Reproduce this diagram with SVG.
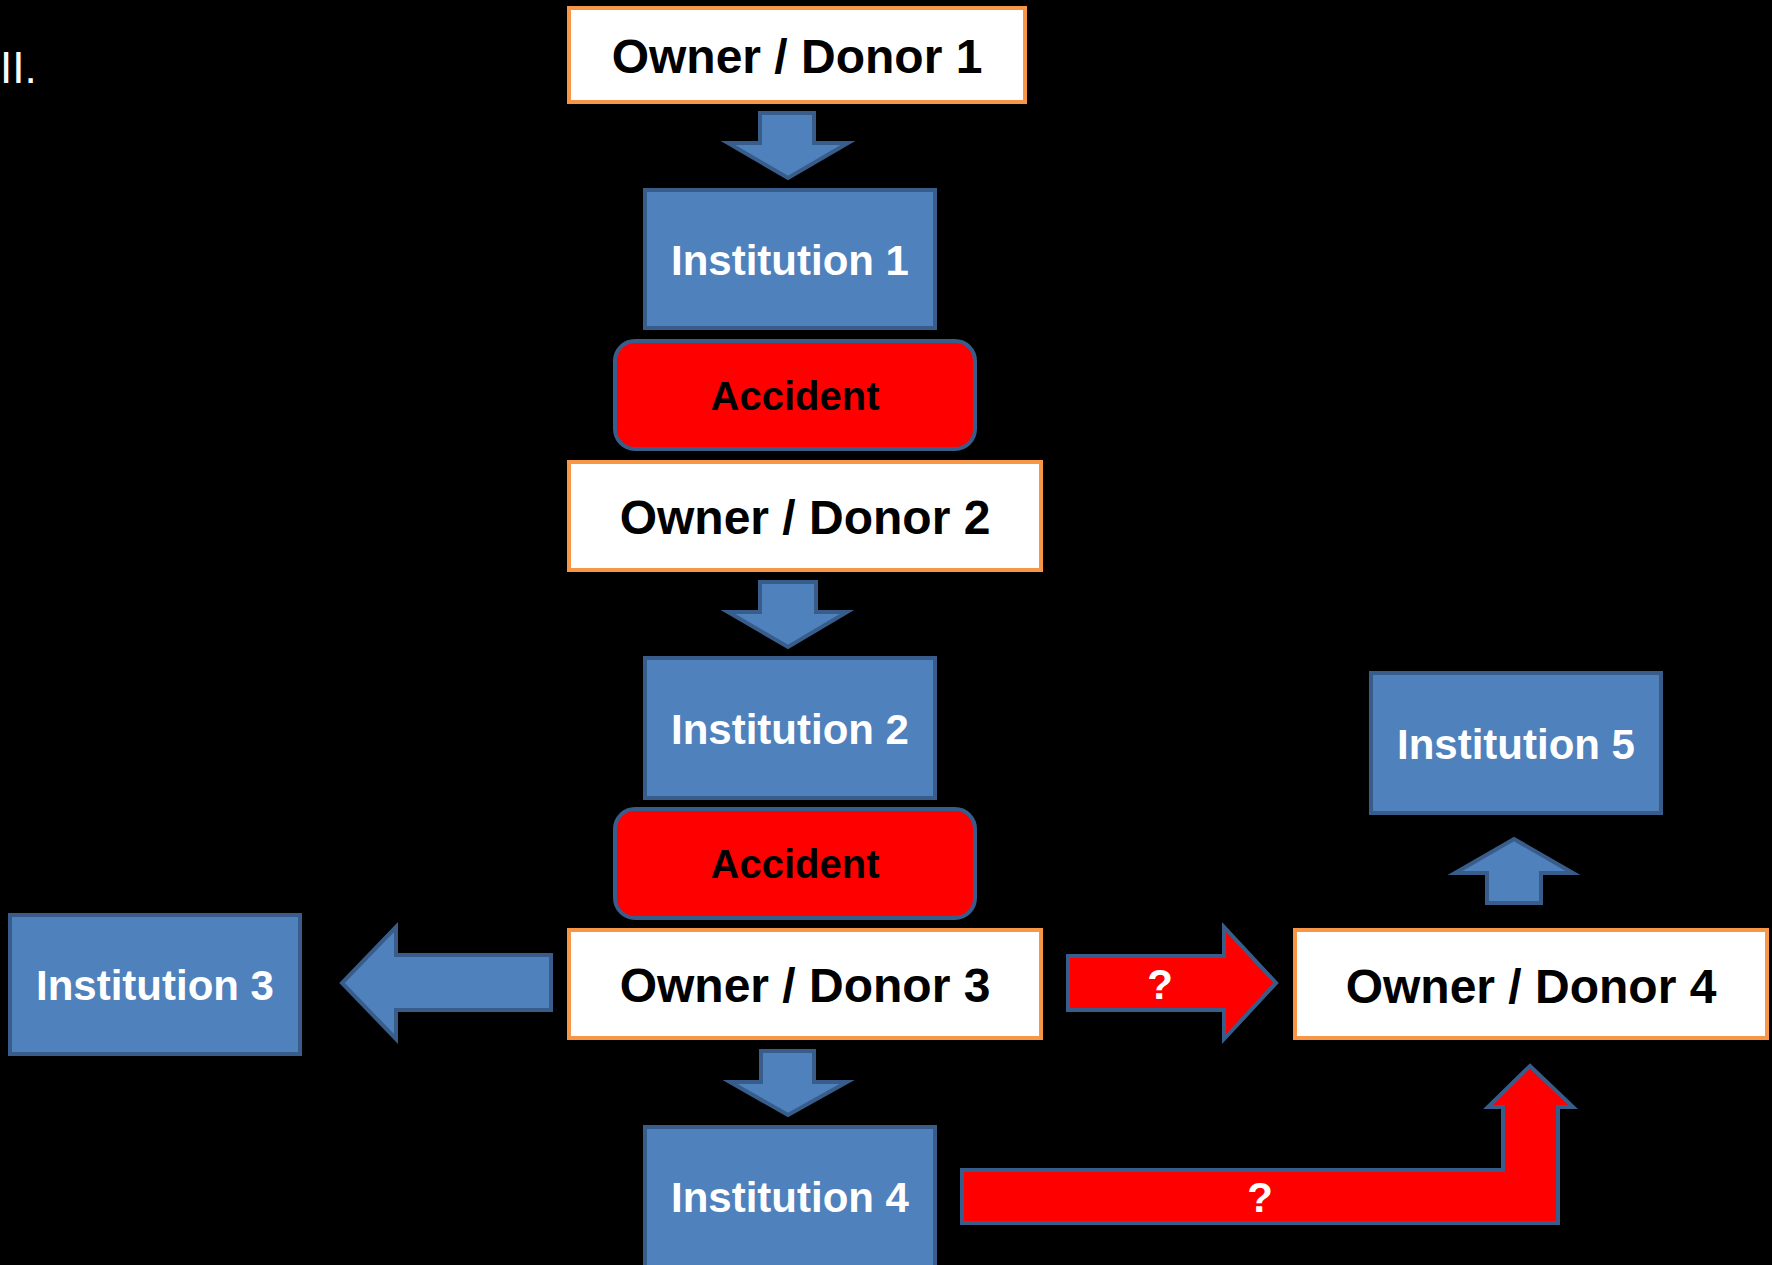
<svg xmlns="http://www.w3.org/2000/svg" width="1772" height="1265" viewBox="0 0 1772 1265">
<style>
.bg{fill:#000000}
.od{fill:#FFFFFF;stroke:#F79646;stroke-width:4}
.inst{fill:#4F81BD;stroke:#385D8A;stroke-width:4}
.acc{fill:#FF0000;stroke:#385D8A;stroke-width:4}
.barrow{fill:#4F81BD;stroke:#385D8A;stroke-width:4;stroke-linejoin:miter}
.rarrow{fill:#FF0000;stroke:#385D8A;stroke-width:4;stroke-linejoin:miter}
text{font-family:"Liberation Sans",Arial,sans-serif;font-weight:bold;text-anchor:middle}
.tod{font-size:48px;fill:#000000}
.tin{font-size:42px;fill:#FFFFFF}
.tac{font-size:40px;fill:#000000}
.tq{font-size:42px;fill:#FFFFFF}
.tlabel{font-size:44px;font-weight:normal;fill:#FFFFFF;text-anchor:start}
</style>
<rect class="bg" x="0" y="0" width="1772" height="1265"/>
<text class="tlabel" x="0" y="83">II.</text>

<g id="connectors">
  <polygon class="barrow" points="760,113 814,113 814,143 848,143 788,178 728,143 760,143"/>
  <polygon class="barrow" points="760,582 816,582 816,612 847,612 788,647 728,612 760,612"/>
  <polygon class="barrow" points="761,1051 814,1051 814,1082 847,1082 788,1115 730,1082 761,1082"/>
  <polygon class="barrow" points="551,955 396,955 396,927 342,983 396,1039 396,1010 551,1010"/>
  <polygon class="barrow" points="1514,839 1573,873 1541,873 1541,903 1487,903 1487,873 1455,873"/>
  <g id="arrow-q1">
    <polygon class="rarrow" points="1068,956 1224,956 1224,927 1276,983 1224,1039 1224,1010 1068,1010"/>
    <text class="tq" x="1160" y="999">?</text>
  </g>
  <g id="arrow-q2">
    <polygon class="rarrow" points="962,1170 1503,1170 1503,1107 1488,1107 1530,1066 1573,1107 1558,1107 1558,1223 962,1223"/>
    <text class="tq" x="1260" y="1212">?</text>
  </g>
</g>

<g id="owner1">
  <rect class="od" x="569" y="8" width="456" height="94"/>
  <text class="tod" x="797" y="73">Owner / Donor 1</text>
</g>
<g id="inst1">
  <rect class="inst" x="645" y="190" width="290" height="138"/>
  <text class="tin" x="790" y="275">Institution 1</text>
</g>
<g id="accident1">
  <rect class="acc" x="615" y="341" width="360" height="108" rx="20" ry="20"/>
  <text class="tac" x="795" y="410">Accident</text>
</g>
<g id="owner2">
  <rect class="od" x="569" y="462" width="472" height="108"/>
  <text class="tod" x="805" y="534">Owner / Donor 2</text>
</g>
<g id="inst2">
  <rect class="inst" x="645" y="658" width="290" height="140"/>
  <text class="tin" x="790" y="744">Institution 2</text>
</g>
<g id="accident2">
  <rect class="acc" x="615" y="809" width="360" height="109" rx="20" ry="20"/>
  <text class="tac" x="795" y="878">Accident</text>
</g>
<g id="owner3">
  <rect class="od" x="569" y="930" width="472" height="108"/>
  <text class="tod" x="805" y="1002">Owner / Donor 3</text>
</g>
<g id="inst3">
  <rect class="inst" x="10" y="915" width="290" height="139"/>
  <text class="tin" x="155" y="1000">Institution 3</text>
</g>
<g id="inst4">
  <rect class="inst" x="645" y="1127" width="290" height="142"/>
  <text class="tin" x="790" y="1212">Institution 4</text>
</g>
<g id="owner4">
  <rect class="od" x="1295" y="930" width="472" height="108"/>
  <text class="tod" x="1531" y="1003">Owner / Donor 4</text>
</g>
<g id="inst5">
  <rect class="inst" x="1371" y="673" width="290" height="140"/>
  <text class="tin" x="1516" y="759">Institution 5</text>
</g>
</svg>
